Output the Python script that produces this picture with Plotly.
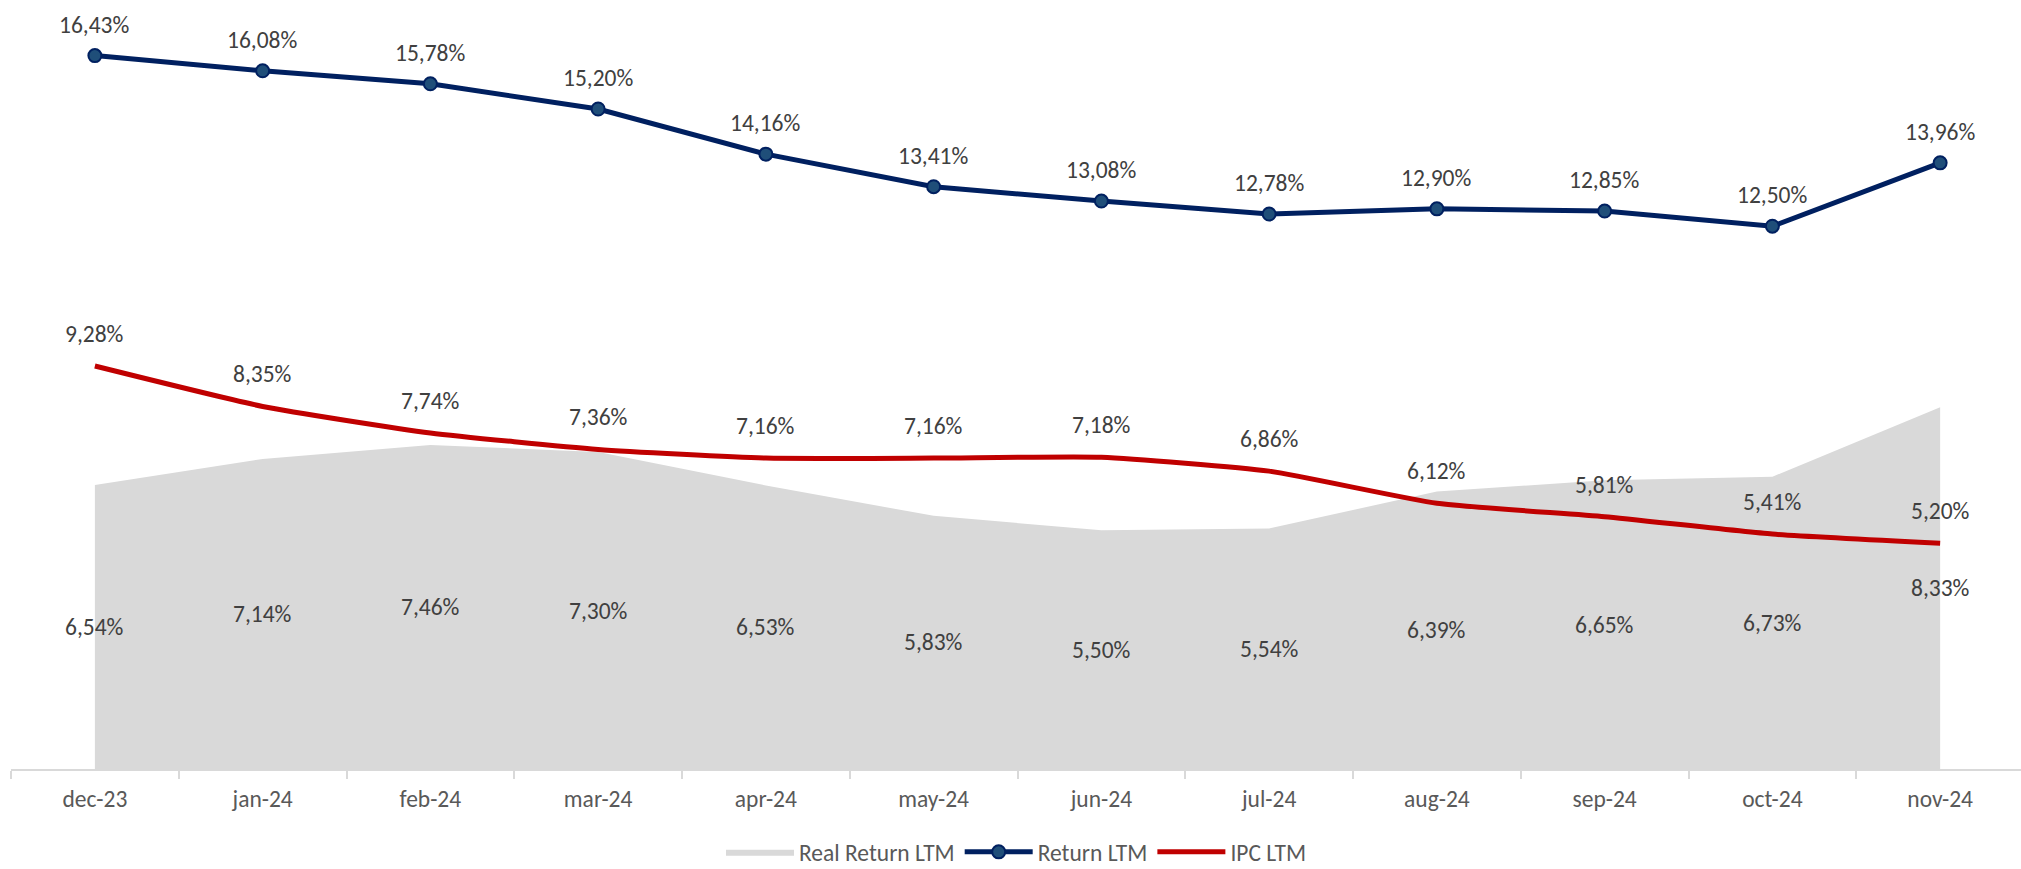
import plotly.graph_objects as go

months = ["dec-23", "jan-24", "feb-24", "mar-24", "apr-24", "may-24",
          "jun-24", "jul-24", "aug-24", "sep-24", "oct-24", "nov-24"]
real_return = [6.54, 7.14, 7.46, 7.30, 6.53, 5.83, 5.50, 5.54, 6.39, 6.65, 6.73, 8.33]
return_ltm = [16.43, 16.08, 15.78, 15.20, 14.16, 13.41, 13.08, 12.78, 12.90, 12.85, 12.50, 13.96]
ipc_ltm = [9.28, 8.35, 7.74, 7.36, 7.16, 7.16, 7.18, 6.86, 6.12, 5.81, 5.41, 5.20]


def fmt(v):
    return f"{v:.2f}".replace(".", ",") + "%"


FONT = "Carlito, Calibri, Lato, sans-serif"
LABEL_COLOR = "#404040"
FS = 23.5

fig = go.Figure()

fig.add_trace(go.Scatter(
    x=months, y=real_return, name="Real Return LTM", mode="lines",
    fill="tozeroy", fillcolor="#D9D9D9", line=dict(color="#D9D9D9", width=0),
    hoverinfo="skip"))

fig.add_trace(go.Scatter(
    x=months, y=return_ltm, name="Return LTM", mode="lines+markers",
    line=dict(color="#002060", width=5),
    marker=dict(size=13, color="#1F4E79", line=dict(color="#002060", width=2))))

fig.add_trace(go.Scatter(
    x=months, y=ipc_ltm, name="IPC LTM", mode="lines",
    line=dict(color="#C00000", width=5, shape="spline", smoothing=0.5)))

annotations = []
for m, v in zip(months, return_ltm):
    annotations.append(dict(x=m, y=v, text=fmt(v), showarrow=False, yshift=31,
                            font=dict(family=FONT, size=FS, color=LABEL_COLOR)))
for m, v in zip(months, ipc_ltm):
    annotations.append(dict(x=m, y=v, text=fmt(v), showarrow=False, yshift=32,
                            font=dict(family=FONT, size=FS, color=LABEL_COLOR)))
for m, v in zip(months, real_return):
    annotations.append(dict(x=m, y=v / 2, text=fmt(v), showarrow=False,
                            font=dict(family=FONT, size=FS, color=LABEL_COLOR)))

fig.update_layout(
    width=2021, height=869,
    margin=dict(l=11, r=0, t=0, b=100, autoexpand=False),
    paper_bgcolor="white", plot_bgcolor="white",
    separators=",.",
    showlegend=True,
    legend=dict(orientation="h", x=0.5, xanchor="center", y=-0.108, yanchor="middle",
                font=dict(family=FONT, size=FS, color="#595959"),
                itemwidth=68, traceorder="normal"),
    annotations=annotations,
    xaxis=dict(type="category", range=[-0.5, 11.482], showgrid=False,
               showline=True, linecolor="#D9D9D9", linewidth=2,
               ticks="outside", tickson="boundaries", ticklen=8,
               tickcolor="#D9D9D9", tickwidth=2, ticklabelstandoff=8,
               automargin=False,
               tickfont=dict(family=FONT, size=FS, color="#595959"), zeroline=False),
    yaxis=dict(range=[0, 17.71], visible=False, showgrid=False, zeroline=False,
               automargin=False),
)

fig.write_html("out.html", config={"displayModeBar": False},
               post_script="document.body.style.margin='0';document.body.style.overflow='hidden';")
